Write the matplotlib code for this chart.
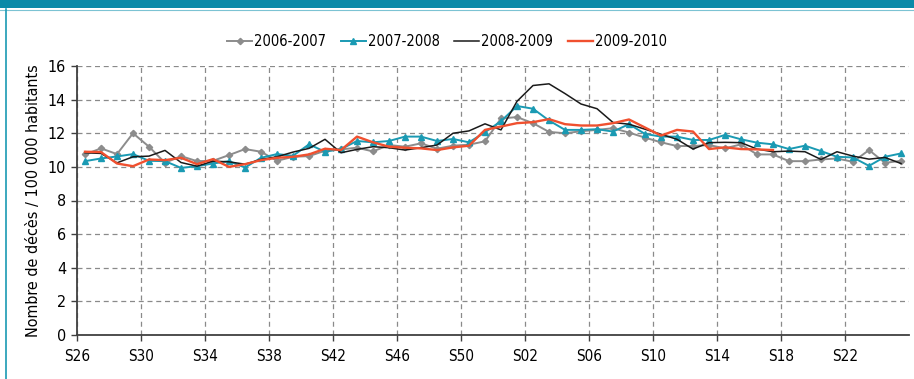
import matplotlib.pyplot as plt
from matplotlib.lines import Line2D

plt.rcParams['font.family'] = ['DejaVu Sans']
plt.rcParams['font.stretch'] = 'condensed'

week_labels = ['S26', 'S30', 'S34', 'S38', 'S42', 'S46', 'S50',
               'S02', 'S06', 'S10', 'S14', 'S18', 'S22']

s2006 = [10.74, 11.1, 10.76, 12.0, 11.2, 10.24, 10.64, 10.34, 10.36, 10.7,
         11.06, 10.9, 10.36, 10.6, 10.64, 10.96, 11.04, 11.14, 10.92, 11.3,
         11.2, 11.4, 11.08, 11.26, 11.32, 11.52, 12.88, 12.96, 12.6, 12.08,
         12.0, 12.12, 12.2, 12.3, 12.04, 11.74, 11.46, 11.24, 11.24, 11.3,
         11.1, 11.34, 10.74, 10.74, 10.34, 10.34, 10.44, 10.5, 10.3, 11.0,
         10.24, 10.36]
s2007 = [10.34, 10.5, 10.62, 10.76, 10.36, 10.34, 9.94, 10.04, 10.2, 10.34,
         9.96, 10.54, 10.76, 10.66, 11.34, 10.9, 11.06, 11.54, 11.46, 11.54,
         11.8, 11.8, 11.54, 11.66, 11.46, 12.06, 12.72, 13.62, 13.46, 12.76,
         12.2, 12.2, 12.24, 12.1, 12.54, 11.96, 11.8, 11.8, 11.6, 11.6,
         11.9, 11.64, 11.44, 11.34, 11.06, 11.26, 10.94, 10.6, 10.56, 10.06,
         10.6, 10.8]
s2008 = [10.84, 10.8, 10.24, 10.6, 10.64, 10.98, 10.26, 10.04, 10.34, 10.3,
         10.16, 10.44, 10.6, 10.88, 11.1, 11.64, 10.84, 11.04, 11.2, 11.14,
         11.0, 11.14, 11.3, 12.0, 12.14, 12.56, 12.2, 13.9, 14.84, 14.94,
         14.36, 13.74, 13.46, 12.64, 12.54, 12.24, 11.94, 11.64, 11.06, 11.44,
         11.46, 11.44, 11.06, 10.9, 10.94, 10.9, 10.44, 10.9, 10.64, 10.46,
         10.56, 10.2]
s2009 = [10.9, 10.88, 10.2, 10.04, 10.44, 10.4, 10.54, 10.16, 10.46, 10.0,
         10.16, 10.4, 10.54, 10.6, 10.74, 11.08, 11.0, 11.8, 11.46, 11.2,
         11.14, 11.1, 11.0, 11.16, 11.26, 12.2, 12.4, 12.6, 12.66, 12.84,
         12.54, 12.46, 12.46, 12.6, 12.82, 12.34, 11.86, 12.2, 12.1, 11.06,
         11.16, 11.06, 11.04, 11.0]

teal = '#1a9ab3'
fig = plt.figure(figsize=(9.14, 3.79), dpi=100)

# bandeau et cadre
fig.add_artist(plt.Rectangle((0, 1 - 8 / 379), 1, 8 / 379, transform=fig.transFigure,
                             color='#0a8aa8', lw=0))
fig.add_artist(Line2D([0, 1], [1 - 9.5 / 379] * 2, transform=fig.transFigure,
                      color='#7cc3d3', lw=0.8))
fig.add_artist(Line2D([6 / 914] * 2, [0, 1 - 9 / 379], transform=fig.transFigure,
                      color=teal, lw=1.2))

ax = fig.add_axes([77 / 914, 1 - 335 / 379, 832 / 914, 269 / 379])

x = [i + 0.5 for i in range(len(s2006))]
ax.plot(x, s2006, color='#8c8c8c', lw=1.4, marker='D', ms=3.2, label='2006-2007')
ax.plot(x, s2007, color=teal, lw=1.4, marker='^', ms=4.2, label='2007-2008')
ax.plot(x, s2008, color='#1a1a1a', lw=1.1, label='2008-2009')
ax.plot(x[:len(s2009)], s2009, color='#f0502f', lw=1.7, label='2009-2010')

ax.set_xlim(0, 52)
ax.set_ylim(0, 16)
ax.set_yticks(range(0, 17, 2))
ax.set_xticks(range(0, 52, 4))
ax.set_xticklabels(week_labels)
ax.tick_params(labelsize=11.5, length=4, width=1, color='#404040', pad=4)
ax.tick_params(axis='x', labelsize=11, pad=6)
ax.grid(True, color='#8a8a8a', linestyle=(0, (4, 3)), linewidth=0.9)
ax.set_axisbelow(True)
for side in ['top', 'right']:
    ax.spines[side].set_visible(False)
for side in ['left', 'bottom']:
    ax.spines[side].set_color('#404040')
    ax.spines[side].set_linewidth(1.3)

ax.set_ylabel('Nombre de décès / 100 000 habitants', fontsize=11.5, labelpad=5)

fig.legend(loc='center', bbox_to_anchor=(447 / 914, 1 - 42 / 379), ncol=4,
           frameon=False, fontsize=10.5, handlelength=1.7, handletextpad=0.15,
           columnspacing=1.0)

fig.savefig('out.png', dpi=100)
